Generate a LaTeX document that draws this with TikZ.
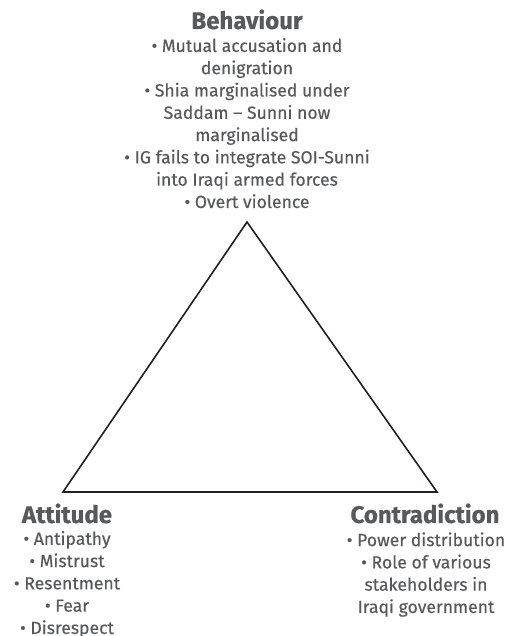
\documentclass[tikz,border=0pt]{standalone}
\usepackage{fontspec}
\setmainfont{Fira Sans}
\newfontfamily\itemfont[FakeBold=0.35]{Fira Sans}
\newfontfamily\headfont[FakeBold=0.6]{Fira Sans Bold}
\definecolor{txtgray}{HTML}{58595B}
\definecolor{linedark}{HTML}{231F20}
\begin{document}
\begin{tikzpicture}[x=1pt,y=1pt,
  heading/.style={anchor=base,text=txtgray,inner sep=0pt,
    font=\headfont\fontsize{24}{28}\selectfont},
  items/.style={anchor=base,text=txtgray,inner sep=0pt,align=center,
    font=\itemfont\fontsize{17.6}{22.3}\selectfont},
  edge/.style={draw=linedark,line width=1.6pt,line join=miter}]
\useasboundingbox (0,0) rectangle (519,636);

% corners of the triangle
\coordinate (top) at (247,414);
\coordinate (left) at (63,144);
\coordinate (right) at (437,144);
\draw[edge] (top) -- (left) -- (right) -- cycle;

% Behaviour (items node is anchored at the baseline of its last line)
\node[heading] (behh) at (247,607) {Behaviour};
\node[items] (behi) at (247,428) {• Mutual accusation and\\denigration\\• Shia marginalised under\\Saddam – Sunni now\\marginalised\\• IG fails to integrate SOI-Sunni\\into Iraqi armed forces\\• Overt violence};

% Attitude
\node[heading] (atth) at (67,113) {Attitude};
\node[items] (atti) at (67,2) {• Antipathy\\• Mistrust\\• Resentment\\• Fear\\• Disrespect};

% Contradiction
\node[heading] (conh) at (425,113) {Contradiction};
\node[items] (coni) at (426,23) {• Power distribution\\• Role of various\\stakeholders in\\Iraqi government};
\end{tikzpicture}
\end{document}
